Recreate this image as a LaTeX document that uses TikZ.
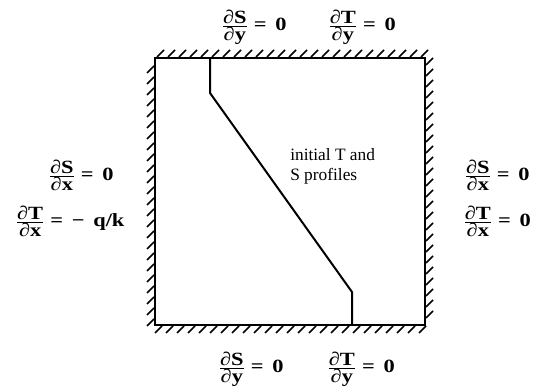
\documentclass[tikz,border=0pt]{standalone}
\usepackage{fontspec}
\setmainfont{Liberation Serif}
\newfontfamily\labfont[FakeStretch=1.2]{Liberation Serif}
\newcommand{\fr}[2]{\frac{\mbox{\labfont\bfseries #1}}{\mbox{\labfont\bfseries #2}}}
\begin{document}
\begin{tikzpicture}[x=0.75pt,y=-0.75pt,
  wall/.style={line width=1.6pt},
  hatch/.style={line width=1.3pt},
  prof/.style={line width=1.5pt,line join=round},
  lab/.style={font=\fontsize{14}{16}\labfont\bfseries, inner sep=0pt},
  note/.style={font=\fontsize{13}{15.5}\selectfont, align=left, inner sep=0pt}]
\useasboundingbox (0,0) rectangle (533,392);
% box corners
\coordinate (tl) at (155,58);
\coordinate (tr) at (425,58);
\coordinate (br) at (425,325);
\coordinate (bl) at (155,325);
\draw[wall] (tl) -- (tr) -- (br) -- (bl) -- cycle;
% hatching
\foreach \x in {157,168,...,424} \draw[hatch] (\x,57) -- (\x+7,50);
\foreach \y in {66,77,...,325} \draw[hatch] (154,\y) -- (147,\y+7);
\foreach \y in {58,69,...,318} \draw[hatch] (426,\y+7) -- (433,\y);
\foreach \x in {162,173,...,430} \draw[hatch] (\x,326) -- (\x-7,333);
% profile
\coordinate (p0) at (210,58);
\coordinate (p1) at (210,93);
\coordinate (p2) at (352,292);
\coordinate (p3) at (352,325);
\draw[prof] (p0) -- (p1) -- (p2) -- (p3);
\node[note, anchor=north west] (note) at (290,148) {initial T and\\S profiles};
% labels
\node[lab] (t1) at (254,27) {$\fr{∂S}{∂y}$ = \,0};
\node[lab] (t2) at (362,27) {$\fr{∂T}{∂y}$ = \,0};
\node[lab] (b1) at (251,369) {$\fr{∂S}{∂y}$ = \,0};
\node[lab] (b2) at (361,369) {$\fr{∂T}{∂y}$ = \,0};
\node[lab] (l1) at (81,175) {$\fr{∂S}{∂x}$ = \,0};
\node[lab] (l2) at (70,221) {$\fr{∂T}{∂x}$ = \,− \,q/k};
\node[lab] (r1) at (497,175) {$\fr{∂S}{∂x}$ = \,0};
\node[lab] (r2) at (497,221) {$\fr{∂T}{∂x}$ = \,0};
\end{tikzpicture}
\end{document}
